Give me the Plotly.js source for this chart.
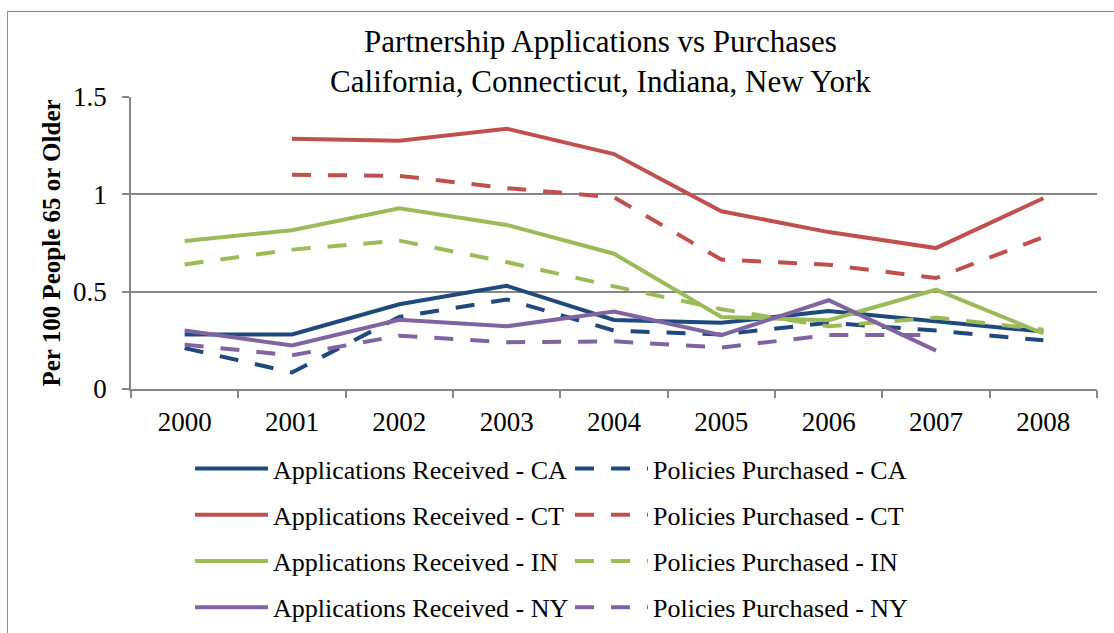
<!DOCTYPE html>
<html>
<head>
<meta charset="utf-8">
<script src="https://cdn.plot.ly/plotly-3.0.1.min.js"></script>
<style>
html,body{margin:0;padding:0;background:#fff;}
#wrap{position:relative;width:1114px;height:633px;overflow:hidden;}
#chart{width:1114px;height:633px;}
#frame{position:absolute;left:7px;top:11px;width:1200px;height:700px;border-left:1px solid #8c8c8c;border-top:1px solid #8c8c8c;pointer-events:none;}
</style>
</head>
<body>
<div id="wrap"><div id="chart"></div><div id="frame"></div></div>
<script>
const years = ['2000','2001','2002','2003','2004','2005','2006','2007','2008'];
const appsCA = [0.28, 0.28, 0.435, 0.53, 0.355, 0.34, 0.40, 0.35, 0.295];
const polsCA = [0.21, 0.085, 0.37, 0.46, 0.30, 0.28, 0.34, 0.30, 0.25];
const appsCT = [null, 1.285, 1.275, 1.337, 1.207, 0.913, 0.806, 0.724, 0.98];
const polsCT = [null, 1.10, 1.095, 1.032, 0.985, 0.665, 0.638, 0.57, 0.78];
const appsIN = [0.76, 0.816, 0.928, 0.843, 0.695, 0.37, 0.353, 0.51, 0.285];
const polsIN = [0.64, 0.716, 0.762, 0.652, 0.527, 0.41, 0.322, 0.367, 0.305];
const appsNY = [0.30, 0.224, 0.356, 0.322, 0.398, 0.276, 0.456, 0.197, null];
const polsNY = [0.228, 0.173, 0.274, 0.24, 0.245, 0.213, 0.277, 0.277, null];

const names = [
  ['Applications Received - CA', appsCA, '#1F497D', 'solid', 'legend'],
  ['Policies Purchased - CA', polsCA, '#1F497D', '19px,17px', 'legend2'],
  ['Applications Received - CT', appsCT, '#C0504D', 'solid', 'legend'],
  ['Policies Purchased - CT', polsCT, '#C0504D', '19px,17px', 'legend2'],
  ['Applications Received - IN', appsIN, '#9BBB59', 'solid', 'legend'],
  ['Policies Purchased - IN', polsIN, '#9BBB59', '19px,17px', 'legend2'],
  ['Applications Received - NY', appsNY, '#8064A2', 'solid', 'legend'],
  ['Policies Purchased - NY', polsNY, '#8064A2', '19px,17px', 'legend2']
];

const traces = names.map((n, i) => ({
  type: 'scatter', mode: 'lines',
  x: years, y: n[1], name: n[0],
  legend: n[4], legendgroup: 'g' + i,
  connectgaps: false,
  line: {color: n[2], width: 4, dash: n[3]},
  hoverinfo: 'x+y+name'
}));

const axisGrey = '#868686';
const serif = 'Liberation Serif, DejaVu Serif, serif';
const W = 1114, H = 633;
const mL = 131, mR = 17, mT = 97, mB = 244;
const plotW = W - mL - mR, plotH = H - mT - mB;
const px = v => (v - mL) / plotW;
const py = v => (H - mB - v) / plotH;

const legendCommon = {
  font: {family: serif, size: 26, color: '#000'},
  bgcolor: 'rgba(0,0,0,0)',
  orientation: 'v',
  xanchor: 'left', yanchor: 'top',
  tracegroupgap: 9.5,
  itemwidth: 73,
  itemclick: false, itemdoubleclick: false
};

const layout = {
  width: W, height: H,
  margin: {l: mL, r: mR, t: mT, b: mB, autoexpand: false},
  paper_bgcolor: '#fff', plot_bgcolor: '#fff',
  font: {family: serif, color: '#000'},
  title: {
    text: 'Partnership Applications vs Purchases<br>California, Connecticut, Indiana, New York',
    font: {family: serif, size: 31, color: '#000'},
    xref: 'container', x: 0.539, xanchor: 'center',
    yref: 'container', y: 0.918, yanchor: 'middle'
  },
  xaxis: {
    type: 'category',
    tickson: 'boundaries',
    ticks: 'outside', ticklen: 7, tickcolor: axisGrey, tickwidth: 1.5,
    showline: true, linecolor: axisGrey, linewidth: 1.5,
    showgrid: false, zeroline: false,
    ticklabelstandoff: 8,
    tickfont: {family: serif, size: 27, color: '#000'},
    range: [-0.5, 8.5]
  },
  yaxis: {
    range: [0, 1.5], dtick: 0.5, tick0: 0,
    ticks: 'outside', ticklen: 7, tickcolor: axisGrey, tickwidth: 1.5,
    showline: true, linecolor: axisGrey, linewidth: 1.5,
    showgrid: true, gridcolor: axisGrey, gridwidth: 1.5,
    zeroline: false,
    ticklabelstandoff: 10,
    tickfont: {family: serif, size: 27, color: '#000'},
    title: {text: '<b>Per 100 People 65 or Older</b>', font: {family: serif, size: 25, color: '#000'}, standoff: 5}
  },
  legend: Object.assign({}, legendCommon, {x: px(190), y: py(445)}),
  legend2: Object.assign({}, legendCommon, {x: px(570), y: py(445)}),
  showlegend: true
};

Plotly.newPlot('chart', traces, layout, {displayModeBar: false});
</script>
</body>
</html>
